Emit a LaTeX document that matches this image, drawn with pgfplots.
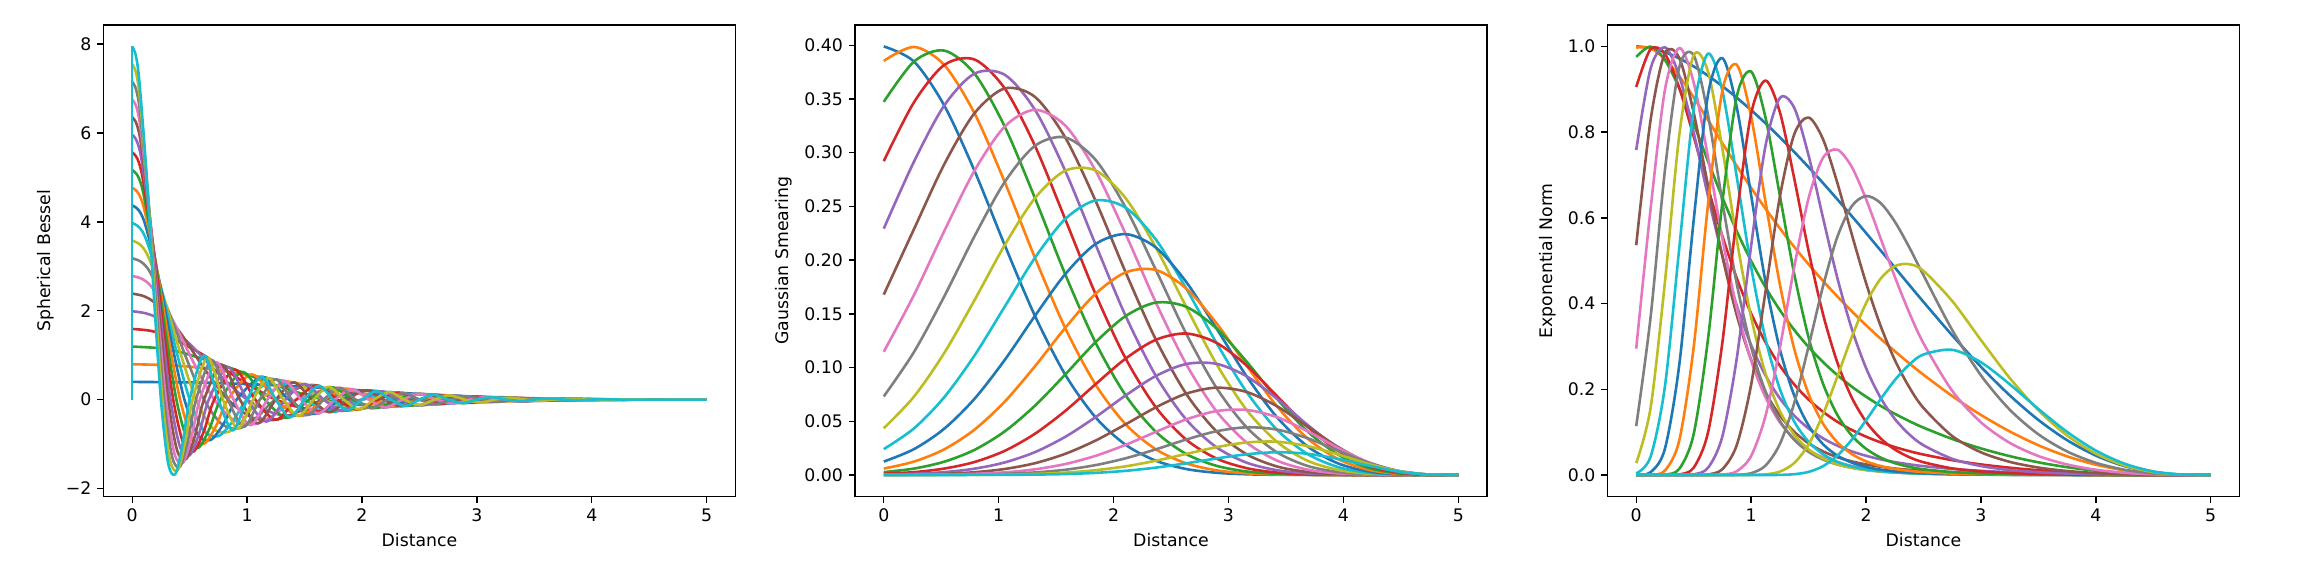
\documentclass[border=0pt]{standalone}
\usepackage{fontspec}
\setmainfont{DejaVu Sans}
\usepackage{pgfplots}
\usepackage{pgfplotstable}
\pgfplotsset{compat=1.18}

\definecolor{C0}{HTML}{1F77B4}
\definecolor{C1}{HTML}{FF7F0E}
\definecolor{C2}{HTML}{2CA02C}
\definecolor{C3}{HTML}{D62728}
\definecolor{C4}{HTML}{9467BD}
\definecolor{C5}{HTML}{8C564B}
\definecolor{C6}{HTML}{E377C2}
\definecolor{C7}{HTML}{7F7F7F}
\definecolor{C8}{HTML}{BCBD22}
\definecolor{C9}{HTML}{17BECF}

% Gaussian smearing: 20 centres, sampled at x = 5m/19
\pgfplotstableread{
x g0 g1 g2 g3 g4 g5 g6 g7 g8 g9 g10 g11 g12 g13 g14 g15 g16 g17 g18 g19
0 0.3989 0.3854 0.3473 0.2921 0.2293 0.1679 0.1147 0.0731 0.0435 0.0241 0.0125 0.0060 0.0027 0.0012 0.0005 0.0002 0.0001 0 0 0
0.26316 0.3848 0.3984 0.3848 0.3469 0.2917 0.2289 0.1676 0.1145 0.0730 0.0434 0.0241 0.0125 0.0060 0.0027 0.0011 0.0005 0.0002 0.0001 0 0
0.52632 0.3439 0.3816 0.3950 0.3816 0.3439 0.2892 0.2270 0.1662 0.1136 0.0724 0.0431 0.0239 0.0124 0.0060 0.0027 0.0011 0.0005 0.0002 0.0001 0
0.78947 0.2832 0.3367 0.3736 0.3867 0.3736 0.3367 0.2832 0.2222 0.1627 0.1112 0.0709 0.0422 0.0234 0.0121 0.0059 0.0026 0.0011 0.0004 0.0002 0.0001
1.05263 0.2140 0.2727 0.3243 0.3598 0.3725 0.3598 0.3243 0.2727 0.2140 0.1567 0.1071 0.0683 0.0406 0.0225 0.0117 0.0056 0.0025 0.0011 0.0004 0.0002
1.31579 0.1481 0.2022 0.2577 0.3064 0.3399 0.3519 0.3399 0.3064 0.2577 0.2022 0.1481 0.1012 0.0645 0.0384 0.0213 0.0110 0.0053 0.0024 0.0010 0.0004
1.57895 0.0935 0.1369 0.1869 0.2382 0.2832 0.3142 0.3253 0.3142 0.2832 0.2382 0.1869 0.1369 0.0935 0.0596 0.0355 0.0197 0.0102 0.0049 0.0022 0.0009
1.84211 0.0538 0.0844 0.1235 0.1686 0.2149 0.2555 0.2835 0.2935 0.2835 0.2555 0.2149 0.1686 0.1235 0.0844 0.0538 0.0320 0.0178 0.0092 0.0045 0.0020
2.10526 0.0281 0.0472 0.0741 0.1084 0.1480 0.1886 0.2242 0.2488 0.2576 0.2488 0.2242 0.1886 0.1480 0.1084 0.0741 0.0472 0.0281 0.0156 0.0081 0.0039
2.36842 0.0133 0.0239 0.0402 0.0630 0.0922 0.1259 0.1605 0.1908 0.2117 0.2191 0.2117 0.1908 0.1605 0.1259 0.0922 0.0630 0.0402 0.0239 0.0133 0.0069
2.63158 0.0056 0.0109 0.0196 0.0330 0.0517 0.0757 0.1033 0.1317 0.1566 0.1737 0.1798 0.1737 0.1566 0.1317 0.1033 0.0757 0.0517 0.0330 0.0196 0.0109
2.89474 0.0021 0.0044 0.0086 0.0154 0.0259 0.0407 0.0595 0.0813 0.1035 0.1231 0.1366 0.1414 0.1366 0.1231 0.1035 0.0813 0.0595 0.0407 0.0259 0.0154
3.15789 0.0007 0.0016 0.0033 0.0064 0.0115 0.0193 0.0303 0.0444 0.0606 0.0773 0.0919 0.1019 0.1055 0.1019 0.0919 0.0773 0.0606 0.0444 0.0303 0.0193
3.42105 0.0002 0.0005 0.0011 0.0023 0.0045 0.0080 0.0135 0.0212 0.0310 0.0423 0.0539 0.0641 0.0711 0.0736 0.0711 0.0641 0.0539 0.0423 0.0310 0.0212
3.68421 0.0001 0.0001 0.0003 0.0007 0.0015 0.0029 0.0051 0.0086 0.0135 0.0198 0.0270 0.0344 0.0410 0.0454 0.0470 0.0454 0.0410 0.0344 0.0270 0.0198
3.94737 0 0 0.0001 0.0002 0.0004 0.0008 0.0016 0.0029 0.0049 0.0076 0.0111 0.0152 0.0194 0.0230 0.0256 0.0265 0.0256 0.0230 0.0194 0.0152
4.21053 0 0 0 0 0.0001 0.0002 0.0004 0.0007 0.0013 0.0022 0.0035 0.0051 0.0070 0.0090 0.0106 0.0118 0.0122 0.0118 0.0106 0.0090
4.47368 0 0 0 0 0 0 0.0001 0.0001 0.0002 0.0004 0.0007 0.0011 0.0017 0.0023 0.0029 0.0034 0.0038 0.0040 0.0038 0.0034
4.73684 0 0 0 0 0 0 0 0 0 0 0.0001 0.0001 0.0002 0.0002 0.0003 0.0004 0.0005 0.0005 0.0005 0.0005
5 0 0 0 0 0 0 0 0 0 0 0 0 0 0 0 0 0 0 0 0
}\gauss

% exponential normal basis, 20 functions
\pgfplotstableread{
x f0 f1 f2 f3 f4 f5 f6 f7 f8 f9 f10 f11 f12 f13 f14 f15 f16 f17 f18 f19
0 1.0000 0.9972 0.9754 0.9051 0.7581 0.5362 0.2948 0.1140 0.0276 0.0037 0.0002 0 0 0 0 0 0 0 0 0
0.125 0.9964 0.9956 0.9995 0.9936 0.9481 0.8278 0.6201 0.3675 0.1563 0.0425 0.0065 0.0005 0 0 0 0 0 0 0 0
0.25 0.9865 0.9704 0.9683 0.9822 0.9979 0.9842 0.8983 0.7111 0.4503 0.2068 0.0614 0.0104 0.0009 0 0 0 0 0 0 0
0.375 0.9719 0.9301 0.9025 0.9028 0.9308 0.9726 0.9962 0.9515 0.7928 0.5301 0.2575 0.0809 0.0144 0.0013 0 0 0 0 0 0
0.5 0.9533 0.8811 0.8196 0.7901 0.7994 0.8456 0.9161 0.9793 0.9791 0.8531 0.5938 0.2977 0.0953 0.0170 0.0015 0.0001 0 0 0 0
0.625 0.9316 0.8281 0.7320 0.6700 0.6504 0.6747 0.7411 0.8399 0.9412 0.9831 0.8874 0.6312 0.3172 0.0993 0.0168 0.0013 0 0 0 0
0.75 0.9071 0.7741 0.6472 0.5574 0.5119 0.5099 0.5513 0.6370 0.7613 0.8961 0.9727 0.8967 0.6360 0.3091 0.0902 0.0136 0.0009 0 0 0
0.875 0.8803 0.7211 0.5691 0.4592 0.3955 0.3732 0.3895 0.4465 0.5490 0.6957 0.8581 0.9572 0.8825 0.6044 0.2718 0.0698 0.0087 0.0005 0 0
1 0.8514 0.6700 0.4994 0.3770 0.3032 0.2689 0.2674 0.2986 0.3683 0.4859 0.6529 0.8365 0.9412 0.8423 0.5342 0.2103 0.0443 0.0042 0.0002 0
1.125 0.8206 0.6215 0.4381 0.3097 0.2324 0.1929 0.1815 0.1950 0.2371 0.3180 0.4511 0.6381 0.8345 0.9203 0.7676 0.4273 0.1378 0.0219 0.0015 0
1.25 0.7880 0.5756 0.3848 0.2552 0.1789 0.1389 0.1232 0.1264 0.1497 0.2008 0.2939 0.4454 0.6523 0.8468 0.8794 0.6485 0.2964 0.0721 0.0079 0.0003
1.375 0.7538 0.5323 0.3386 0.2114 0.1387 0.1009 0.0842 0.0823 0.0942 0.1248 0.1855 0.2946 0.4695 0.6923 0.8569 0.7946 0.4845 0.1676 0.0279 0.0019
1.5 0.7182 0.4916 0.2986 0.1761 0.1086 0.0741 0.0583 0.0541 0.0597 0.0776 0.1156 0.1893 0.3212 0.5231 0.7457 0.8340 0.6454 0.2997 0.0712 0.0073
1.625 0.6813 0.4531 0.2637 0.1476 0.0858 0.0552 0.0410 0.0362 0.0384 0.0486 0.0721 0.1203 0.2137 0.3762 0.6009 0.7839 0.7396 0.4395 0.1409 0.0205
1.75 0.6433 0.4168 0.2332 0.1243 0.0685 0.0417 0.0293 0.0246 0.0251 0.0310 0.0454 0.0765 0.1405 0.2629 0.4604 0.6819 0.7590 0.5551 0.2293 0.0452
1.875 0.6044 0.3823 0.2064 0.1053 0.0552 0.0319 0.0213 0.0171 0.0167 0.0201 0.0291 0.0491 0.0924 0.1813 0.3420 0.5626 0.7193 0.6268 0.3211 0.0820
2 0.5648 0.3496 0.1828 0.0895 0.0449 0.0247 0.0157 0.0121 0.0114 0.0133 0.0190 0.0320 0.0612 0.1246 0.2498 0.4483 0.6439 0.6509 0.4006 0.1277
2.125 0.5246 0.3185 0.1617 0.0764 0.0367 0.0193 0.0118 0.0087 0.0079 0.0090 0.0126 0.0212 0.0410 0.0859 0.1810 0.3494 0.5536 0.6350 0.4572 0.1762
2.25 0.4843 0.2890 0.1429 0.0653 0.0302 0.0153 0.0090 0.0064 0.0056 0.0062 0.0086 0.0143 0.0278 0.0597 0.1311 0.2688 0.4629 0.5914 0.4872 0.2211
2.375 0.4439 0.2608 0.1259 0.0558 0.0250 0.0122 0.0069 0.0047 0.0041 0.0044 0.0059 0.0098 0.0192 0.0419 0.0952 0.2055 0.3798 0.5320 0.4919 0.2571
2.5 0.4039 0.2340 0.1106 0.0478 0.0207 0.0098 0.0054 0.0036 0.0030 0.0031 0.0042 0.0069 0.0134 0.0298 0.0695 0.1566 0.3075 0.4662 0.4762 0.2812
2.75 0.3259 0.1843 0.0841 0.0347 0.0143 0.0064 0.0033 0.0021 0.0017 0.0017 0.0022 0.0035 0.0069 0.0155 0.0378 0.0910 0.1966 0.3384 0.4060 0.2921
3 0.2525 0.1402 0.0621 0.0247 0.0098 0.0042 0.0021 0.0013 0.0010 0.0009 0.0012 0.0019 0.0037 0.0084 0.0210 0.0531 0.1230 0.2327 0.3150 0.2631
3.25 0.1861 0.1018 0.0441 0.0171 0.0065 0.0027 0.0013 0.0008 0.0006 0.0005 0.0007 0.0010 0.0020 0.0046 0.0117 0.0308 0.0752 0.1527 0.2265 0.2119
3.5 0.1285 0.0695 0.0296 0.0112 0.0042 0.0017 0.0008 0.0004 0.0003 0.0003 0.0004 0.0006 0.0011 0.0025 0.0065 0.0174 0.0443 0.0950 0.1512 0.1542
3.75 0.0813 0.0436 0.0183 0.0068 0.0025 0.0010 0.0004 0.0003 0.0002 0.0002 0.0002 0.0003 0.0006 0.0013 0.0034 0.0094 0.0246 0.0550 0.0923 0.1006
4 0.0454 0.0241 0.0100 0.0037 0.0013 0.0005 0.0002 0.0001 0.0001 0.0001 0.0001 0.0001 0.0003 0.0006 0.0017 0.0046 0.0124 0.0285 0.0498 0.0571
4.25 0.0208 0.0110 0.0045 0.0016 0.0006 0.0002 0.0001 0 0 0 0 0.0001 0.0001 0.0003 0.0007 0.0019 0.0052 0.0123 0.0222 0.0265
4.5 0.0067 0.0035 0.0014 0.0005 0.0002 0.0001 0 0 0 0 0 0 0 0.0001 0.0002 0.0006 0.0016 0.0038 0.0069 0.0085
4.75 0.0009 0.0005 0.0002 0.0001 0 0 0 0 0 0 0 0 0 0 0 0.0001 0.0002 0.0005 0.0009 0.0012
5 0 0 0 0 0 0 0 0 0 0 0 0 0 0 0 0 0 0 0 0
}\expnorm

\pgfplotsset{
  panel/.style={
    anchor=south west, scale only axis,
    width=364bp, height=271.6bp,
    xmin=-0.25, xmax=5.25,
    xtick={0,1,2,3,4,5}, xticklabels={0,1,2,3,4,5},
    xtick pos=left, ytick pos=left,
    tick align=outside, major tick length=3.5bp,
    tick style={black, line width=0.8bp},
    axis line style={line width=0.8bp},
    tick label style={font=\fontsize{10}{12}\selectfont},
    label style={font=\fontsize{10}{12}\selectfont},
    xlabel={Distance},
    every axis plot/.append style={line width=1.5bp, smooth, line join=round},
  },
}

\begin{document}
\begin{tikzpicture}
\useasboundingbox (0,0) rectangle (1337.47bp,324.86bp);

% ---- spherical Bessel basis
\begin{axis}[panel, at={(59.6bp,38.9bp)},
  ymin=-2.18, ymax=8.43, ytick={-2,0,2,4,6,8}, yticklabels={−2,0,2,4,6,8},
  ylabel={Spherical Bessel}]
\addplot[C0] coordinates {(0,0.3974) (0.625,0.3810) (1.25,0.3207) (1.875,0.2259) (2.5,0.1265) (3.125,0.0515) (3.75,0.0124) (4.375,0.0009) (5,0)};
\addplot[C1] coordinates {(0,0.7948) (0.3125,0.7726) (0.625,0.7041) (1.25,0.4536) (1.875,0.1729) (2.5,0) (3.125,-0.0394) (3.75,-0.0175) (4.375,-0.0016) (5,0)};
\addplot[C2] coordinates {(0,1.1921) (0.2083,1.1610) (0.4167,1.0679) (0.8333,0.7320) (1.25,0.3207) (1.6667,0) (2.0833,-0.1403) (2.5,-0.1265) (2.9167,-0.0532) (3.3333,0) (4.1667,0.0054) (5,0)};
\addplot[C3] coordinates {(0,1.5895) (0.1563,1.5486) (0.3125,1.4276) (0.625,0.9957) (0.9375,0.4536) (1.25,0) (1.5625,-0.2346) (1.875,-0.2445) (2.1875,-0.1259) (2.5,0) (3.125,0.0557) (3.75,0) (4.375,-0.0023) (5,0)};
\addplot[C4] coordinates {(0,1.9869) (0.125,1.9360) (0.25,1.7868) (0.5,1.2541) (0.75,0.5804) (1,0) (1.25,-0.3207) (1.5,-0.3529) (1.75,-0.1955) (2,0) (2.5,0.1265) (3,0) (3.5,-0.0295) (4,0) (4.5,0.0012) (5,0)};
\addplot[C5] coordinates {(0,2.3843) (0.1042,2.3235) (0.2083,2.1452) (0.4167,1.5102) (0.625,0.7041) (0.8333,0) (1.0417,-0.4015) (1.25,-0.4536) (1.4583,-0.2599) (1.6667,0) (2.0833,0.1984) (2.5,0) (2.9167,-0.0752) (3.3333,0) (3.75,0.0175) (4.1667,0) (4.5833,-0.0007) (5,0)};
\addplot[C6] coordinates {(0,2.7817) (0.0893,2.7108) (0.1786,2.5033) (0.3571,1.7651) (0.5357,0.8261) (0.7143,0) (0.8929,-0.4793) (1.0714,-0.5490) (1.25,-0.3207) (1.4286,0) (1.7857,0.2668) (2.1429,0) (2.5,-0.1265) (2.8571,0) (3.2143,0.0485) (3.5714,0) (3.9286,-0.0113) (4.2857,0) (4.6429,0.0005) (5,0)};
\addplot[C7] coordinates {(0,3.1790) (0.0781,3.0980) (0.1563,2.8613) (0.3125,2.0189) (0.4688,0.9470) (0.625,0) (0.7813,-0.5552) (0.9375,-0.6414) (1.0938,-0.3788) (1.25,0) (1.5625,0.3318) (1.875,0) (2.1875,-0.1781) (2.5,0) (2.8125,0.0864) (3.125,0) (3.4375,-0.0332) (3.75,0) (4.0625,0.0077) (4.375,0) (4.6875,-0.0003) (5,0)};
\addplot[C8] coordinates {(0,3.5764) (0.0694,3.4853) (0.1389,3.2193) (0.2778,2.2732) (0.4167,1.0679) (0.5556,0) (0.6944,-0.6299) (0.8333,-0.7320) (0.9722,-0.4351) (1.1111,0) (1.3889,0.3938) (1.6667,0) (1.9444,-0.2281) (2.2222,0) (2.5,0.1265) (2.7778,0) (3.0556,-0.0618) (3.3333,0) (3.6111,0.0237) (3.8889,0) (4.1667,-0.0054) (4.4444,0) (4.7222,0.0002) (5,0)};
\addplot[C9] coordinates {(0,3.9738) (0.0625,3.8725) (0.125,3.5772) (0.25,2.5269) (0.375,1.1881) (0.5,0) (0.625,-0.7041) (0.75,-0.8208) (0.875,-0.4904) (1,0) (1.25,0.4536) (1.5,0) (1.75,-0.2764) (2,0) (2.25,0.1667) (2.5,0) (2.75,-0.0936) (3,0) (3.25,0.0458) (3.5,0) (3.75,-0.0175) (4,0) (4.25,0.0040) (4.5,0) (4.75,-0.0002) (5,0)};
\addplot[C0] coordinates {(0,4.3712) (0.0568,4.2598) (0.1136,3.9351) (0.2273,2.7803) (0.3409,1.3081) (0.4545,0) (0.5682,-0.7774) (0.6818,-0.9086) (0.7955,-0.5446) (0.9091,0) (1.1364,0.5114) (1.3636,0) (1.5909,-0.3227) (1.8182,0) (2.0455,0.2061) (2.2727,0) (2.5,-0.1265) (2.7273,0) (2.9545,0.0714) (3.1818,0) (3.4091,-0.0349) (3.6364,0) (3.8636,0.0133) (4.0909,0) (4.3182,-0.0030) (4.5455,0) (4.7727,0.0001) (5,0)};
\addplot[C1] coordinates {(0,4.7686) (0.0521,4.6470) (0.1042,4.2929) (0.2083,3.0337) (0.3125,1.4276) (0.4167,0) (0.5208,-0.8504) (0.625,-0.9957) (0.7292,-0.5982) (0.8333,0) (1.0417,0.5677) (1.25,0) (1.4583,-0.3675) (1.6667,0) (1.875,0.2445) (2.0833,0) (2.2917,-0.1594) (2.5,0) (2.7083,0.0986) (2.9167,0) (3.125,-0.0557) (3.3333,0) (3.5417,0.0273) (3.75,0) (3.9583,-0.0104) (4.1667,0) (4.375,0.0023) (4.5833,0) (4.7917,-0.0001) (5,0)};
\addplot[C2] coordinates {(0,5.1659) (0.0481,5.0343) (0.0962,4.6507) (0.1923,3.2870) (0.2885,1.5476) (0.3846,0) (0.4808,-0.9231) (0.5769,-1.0822) (0.6731,-0.6513) (0.7692,0) (0.9615,0.6232) (1.1538,0) (1.3462,-0.4110) (1.5385,0) (1.7308,0.2816) (1.9231,0) (2.1154,-0.1919) (2.3077,0) (2.5,0.1265) (2.6923,0) (2.8846,-0.0785) (3.0769,0) (3.2692,0.0444) (3.4615,0) (3.6538,-0.0217) (3.8462,0) (4.0385,0.0082) (4.2308,0) (4.4231,-0.0018) (4.6154,0) (4.8077,0.0001) (5,0)};
\addplot[C3] coordinates {(0,5.5633) (0.0446,5.4215) (0.0893,5.0085) (0.1786,3.5402) (0.2679,1.6672) (0.3571,0) (0.4464,-0.9956) (0.5357,-1.1683) (0.625,-0.7041) (0.7143,0) (0.8929,0.6779) (1.0714,0) (1.25,-0.4536) (1.4286,0) (1.6071,0.3177) (1.7857,0) (1.9643,-0.2237) (2.1429,0) (2.3214,0.1544) (2.5,0) (2.6786,-0.1023) (2.8571,0) (3.0357,0.0636) (3.2143,0) (3.3929,-0.0359) (3.5714,0) (3.75,0.0175) (3.9286,0) (4.1071,-0.0066) (4.2857,0) (4.4643,0.0015) (4.6429,0) (4.8214,-0.0001) (5,0)};
\addplot[C4] coordinates {(0,5.9607) (0.0417,5.8088) (0.0833,5.3663) (0.1667,3.7934) (0.25,1.7868) (0.3333,0) (0.4167,-1.0679) (0.5,-1.2541) (0.5833,-0.7565) (0.6667,0) (0.8333,0.7320) (1,0) (1.1667,-0.4949) (1.3333,0) (1.5,0.3529) (1.6667,0) (1.8333,-0.2546) (2,0) (2.1667,0.1820) (2.3333,0) (2.5,-0.1265) (2.6667,0) (2.8333,0.0841) (3,0) (3.1667,-0.0523) (3.3333,0) (3.5,0.0295) (3.6667,0) (3.8333,-0.0144) (4,0) (4.1667,0.0054) (4.3333,0) (4.5,-0.0012) (4.6667,0) (4.8333,0.0001) (5,0)};
\addplot[C5] coordinates {(0,6.3581) (0.0391,6.1960) (0.0781,5.7241) (0.1563,4.0465) (0.2344,1.9063) (0.3125,0) (0.3906,-1.1400) (0.4688,-1.3393) (0.5469,-0.8087) (0.625,0) (0.7813,0.7852) (0.9375,0) (1.0938,-0.5356) (1.25,0) (1.4063,0.3870) (1.5625,0) (1.7188,-0.2849) (1.875,0) (2.0313,0.2091) (2.1875,0) (2.3438,-0.1507) (2.5,0) (2.6563,0.1052) (2.8125,0) (2.9688,-0.0700) (3.125,0) (3.2813,0.0435) (3.4375,0) (3.5938,-0.0246) (3.75,0) (3.9063,0.0119) (4.0625,0) (4.2188,-0.0045) (4.375,0) (4.5313,0.0010) (4.6875,0) (5,0)};
\addplot[C6] coordinates {(0,6.7555) (0.0368,6.5833) (0.0735,6.0819) (0.1471,4.2996) (0.2206,2.0258) (0.2941,0) (0.3676,-1.2121) (0.4412,-1.4250) (0.5147,-0.8608) (0.5882,0) (0.7353,0.8383) (0.8824,0) (1.0294,-0.5758) (1.1765,0) (1.3235,0.4205) (1.4706,0) (1.6176,-0.3145) (1.7647,0) (1.9118,0.2357) (2.0588,0) (2.2059,-0.1747) (2.3529,0) (2.5,0.1265) (2.6471,0) (2.7941,-0.0885) (2.9412,0) (3.0882,0.0589) (3.2353,0) (3.3824,-0.0366) (3.5294,0) (3.6765,0.0207) (3.8235,0) (3.9706,-0.0100) (4.1176,0) (4.2647,0.0038) (4.4118,0) (4.5588,-0.0008) (4.7059,0) (5,0)};
\addplot[C7] coordinates {(0,7.1528) (0.0347,6.9705) (0.0694,6.4397) (0.1389,4.5527) (0.2083,2.1452) (0.2778,0) (0.3472,-1.2841) (0.4167,-1.5102) (0.4861,-0.9127) (0.5556,0) (0.6944,0.8908) (0.8333,0) (0.9722,-0.6154) (1.1111,0) (1.25,0.4536) (1.3889,0) (1.5278,-0.3433) (1.6667,0) (1.8056,0.2617) (1.9444,0) (2.0833,-0.1984) (2.2222,0) (2.3611,0.1478) (2.5,0) (2.6389,-0.1074) (2.7778,0) (2.9167,0.0752) (3.0556,0) (3.1944,-0.0501) (3.3333,0) (3.4722,0.0311) (3.6111,0) (3.75,-0.0175) (3.8889,0) (4.0278,0.0085) (4.1667,0) (4.3056,-0.0032) (4.4444,0) (4.5833,0.0007) (4.7222,0) (5,0)};
\addplot[C8] coordinates {(0,7.5502) (0.0329,7.3578) (0.0658,6.7975) (0.1316,4.8058) (0.1974,2.2646) (0.2632,0) (0.3289,-1.3560) (0.3947,-1.5952) (0.4605,-0.9645) (0.5263,0) (0.6579,0.9435) (0.7895,0) (0.9211,-0.6544) (1.0526,0) (1.1842,0.4857) (1.3158,0) (1.4474,-0.3715) (1.5789,0) (1.7105,0.2872) (1.8421,0) (1.9737,-0.2216) (2.1053,0) (2.2368,0.1691) (2.3684,0) (2.5,-0.1265) (2.6316,0) (2.7632,0.0920) (2.8947,0) (3.0263,-0.0645) (3.1579,0) (3.2895,0.0429) (3.4211,0) (3.5526,-0.0267) (3.6842,0) (3.8158,0.0150) (3.9474,0) (4.0789,-0.0073) (4.2105,0) (4.3421,0.0027) (4.4737,0) (4.6053,-0.0006) (4.7368,0) (5,0)};
\addplot[C9] coordinates {(0,7.9476) (0.0313,7.7450) (0.0625,7.1553) (0.125,5.0588) (0.1875,2.3840) (0.25,0) (0.3125,-1.4276) (0.375,-1.6802) (0.4375,-1.0162) (0.5,0) (0.625,0.9957) (0.75,0) (0.875,-0.6935) (1,0) (1.125,0.5178) (1.25,0) (1.375,-0.3994) (1.5,0) (1.625,0.3123) (1.75,0) (1.875,-0.2445) (2,0) (2.125,0.1900) (2.25,0) (2.375,-0.1456) (2.5,0) (2.625,0.1092) (2.75,0) (2.875,-0.0795) (3,0) (3.125,0.0557) (3.25,0) (3.375,-0.0371) (3.5,0) (3.625,0.0230) (3.75,0) (3.875,-0.0129) (4,0) (4.125,0.0062) (4.25,0) (4.375,-0.0023) (4.5,0) (4.625,0.0005) (4.75,0) (5,0)};
\addplot[C9, sharp plot] coordinates {(0,0) (0,7.9476)};
\end{axis}

% ---- Gaussian smearing
\begin{axis}[panel, at={(492.5bp,38.9bp)},
  ymin=-0.019947, ymax=0.418887,
  ytick={0,0.05,0.1,0.15,0.2,0.25,0.3,0.35,0.4},
  yticklabels={0.00,0.05,0.10,0.15,0.20,0.25,0.30,0.35,0.40},
  ylabel={Gaussian Smearing}]
\addplot[C0] table[x=x, y=g0] {\gauss};
\addplot[C1] table[x=x, y=g1] {\gauss};
\addplot[C2] table[x=x, y=g2] {\gauss};
\addplot[C3] table[x=x, y=g3] {\gauss};
\addplot[C4] table[x=x, y=g4] {\gauss};
\addplot[C5] table[x=x, y=g5] {\gauss};
\addplot[C6] table[x=x, y=g6] {\gauss};
\addplot[C7] table[x=x, y=g7] {\gauss};
\addplot[C8] table[x=x, y=g8] {\gauss};
\addplot[C9] table[x=x, y=g9] {\gauss};
\addplot[C0] table[x=x, y=g10] {\gauss};
\addplot[C1] table[x=x, y=g11] {\gauss};
\addplot[C2] table[x=x, y=g12] {\gauss};
\addplot[C3] table[x=x, y=g13] {\gauss};
\addplot[C4] table[x=x, y=g14] {\gauss};
\addplot[C5] table[x=x, y=g15] {\gauss};
\addplot[C6] table[x=x, y=g16] {\gauss};
\addplot[C7] table[x=x, y=g17] {\gauss};
\addplot[C8] table[x=x, y=g18] {\gauss};
\addplot[C9] table[x=x, y=g19] {\gauss};
\end{axis}

% ---- exponential normal basis
\begin{axis}[panel, at={(925.9bp,38.9bp)},
  ymin=-0.05, ymax=1.05,
  ytick={0,0.2,0.4,0.6,0.8,1}, yticklabels={0.0,0.2,0.4,0.6,0.8,1.0},
  ylabel={Exponential Norm}]
\addplot[C0] table[x=x, y=f0] {\expnorm};
\addplot[C1] table[x=x, y=f1] {\expnorm};
\addplot[C2] table[x=x, y=f2] {\expnorm};
\addplot[C3] table[x=x, y=f3] {\expnorm};
\addplot[C4] table[x=x, y=f4] {\expnorm};
\addplot[C5] table[x=x, y=f5] {\expnorm};
\addplot[C6] table[x=x, y=f6] {\expnorm};
\addplot[C7] table[x=x, y=f7] {\expnorm};
\addplot[C8] table[x=x, y=f8] {\expnorm};
\addplot[C9] table[x=x, y=f9] {\expnorm};
\addplot[C0] table[x=x, y=f10] {\expnorm};
\addplot[C1] table[x=x, y=f11] {\expnorm};
\addplot[C2] table[x=x, y=f12] {\expnorm};
\addplot[C3] table[x=x, y=f13] {\expnorm};
\addplot[C4] table[x=x, y=f14] {\expnorm};
\addplot[C5] table[x=x, y=f15] {\expnorm};
\addplot[C6] table[x=x, y=f16] {\expnorm};
\addplot[C7] table[x=x, y=f17] {\expnorm};
\addplot[C8] table[x=x, y=f18] {\expnorm};
\addplot[C9] table[x=x, y=f19] {\expnorm};
\end{axis}
\end{tikzpicture}
\end{document}
